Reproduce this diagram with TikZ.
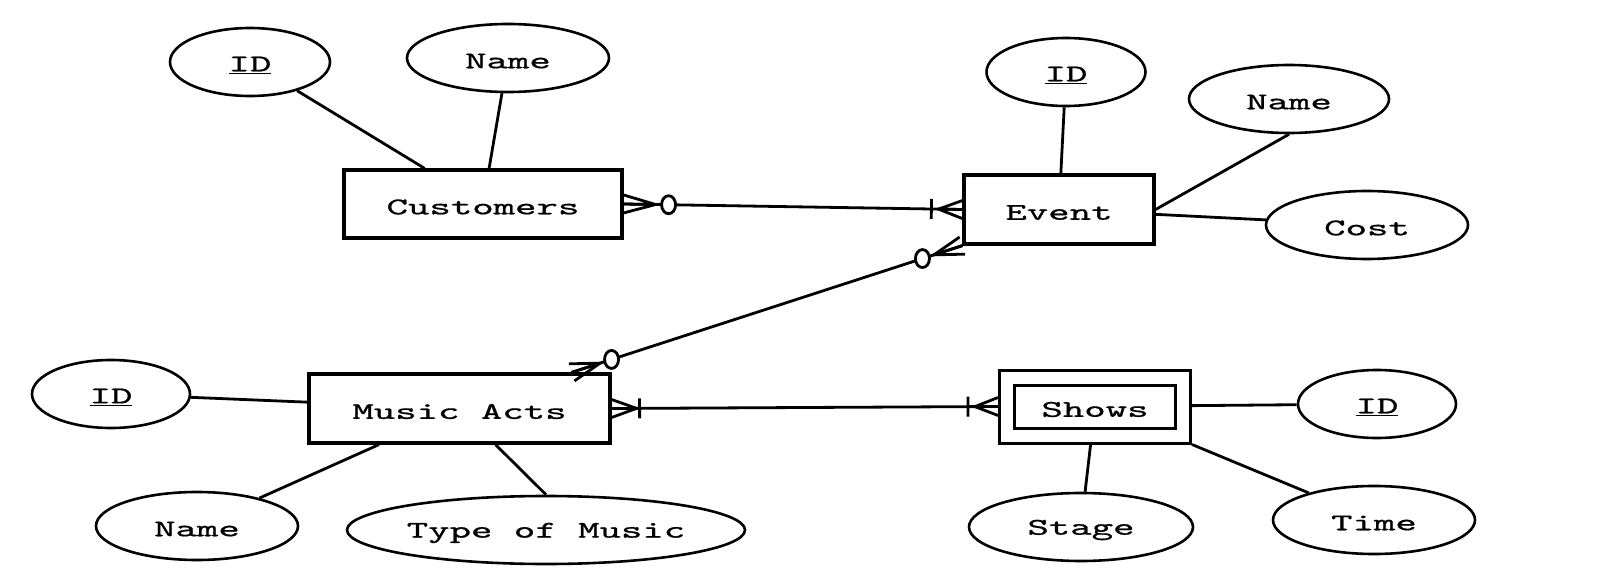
\documentclass[tikz,border=0pt]{standalone}
\usepackage{fontspec}
\newfontfamily\ertt{lmmono10-regular.otf}[FakeBold=0.7]
\usetikzlibrary{calc,shapes.geometric}
\newcommand\wt[1]{\raisebox{-3pt}[\height][\depth]{\scalebox{1.7}[1]{#1}}}
\newcommand\crowfoot[3]{%
  \draw[conn] ($(#1)!9pt!90:(#2)$) -- ($(#1)!#3!(#2)$) -- ($(#1)!9pt!-90:(#2)$)
        (#1) -- ($(#1)!#3!(#2)$);}
\newcommand\erbar[3]{%
  \coordinate (tmpb) at ($(#1)!#3!(#2)$);
  \draw[conn] ($(tmpb)!10pt!90:(#2)$) -- ($(tmpb)!10pt!-90:(#2)$);}
\newcommand\erzero[3]{%
  \draw[conn,fill=white] ($(#1)!#3!(#2)$) ellipse [x radius=7pt, y radius=9pt];}
\begin{document}
\begin{tikzpicture}[x=1pt,y=-1pt,
  every node/.style={font=\fontsize{24}{28}\selectfont\ertt},
  entity/.style={draw,line width=3.2pt,rectangle,inner sep=0pt},
  weak/.style={draw,line width=3pt,double,double distance=12pt,rectangle,inner sep=0pt,outer sep=9pt},
  attr/.style={draw,line width=2.6pt,ellipse,inner sep=0pt},
  conn/.style={line width=2.8pt}]
\useasboundingbox (0,0) rectangle (1599,583);
% entities
\node[entity,minimum width=278pt,minimum height=68pt] (cust) at (483,204) {\wt{Customers}};
\node[entity,minimum width=190pt,minimum height=69pt] (event) at (1059,209.5) {\wt{Event}};
\node[entity,minimum width=301pt,minimum height=69pt] (music) at (459.5,408.5) {\wt{Music Acts}};
\node[weak,minimum width=176pt,minimum height=58pt] (shows) at (1095,406.5) {\wt{Shows}};
% attributes
\node[attr,minimum width=160pt,minimum height=68pt] (cid) at (250,62) {\wt{\underline{ID}}};
\node[attr,minimum width=202pt,minimum height=68pt] (cname) at (508,58) {\wt{Name}};
\node[attr,minimum width=159pt,minimum height=68pt] (eid) at (1066,72) {\wt{\underline{ID}}};
\node[attr,minimum width=200pt,minimum height=68pt] (ename) at (1289,99) {\wt{Name}};
\node[attr,minimum width=202pt,minimum height=68pt] (ecost) at (1367,225) {\wt{Cost}};
\node[attr,minimum width=158pt,minimum height=68pt] (mid) at (111,394) {\wt{\underline{ID}}};
\node[attr,minimum width=202pt,minimum height=68pt] (mname) at (197,526) {\wt{Name}};
\node[attr,minimum width=398pt,minimum height=68pt] (mtype) at (546,530) {\wt{Type of Music}};
\node[attr,minimum width=158pt,minimum height=68pt] (sid) at (1377,404) {\wt{\underline{ID}}};
\node[attr,minimum width=224pt,minimum height=68pt] (sstage) at (1081,527) {\wt{Stage}};
\node[attr,minimum width=202pt,minimum height=68pt] (stime) at (1374,520) {\wt{Time}};
% attribute links
\draw[conn] (cid) -- (cust);
\draw[conn] (cname) -- (cust);
\draw[conn] (eid) -- (event);
\draw[conn] (ename.south) -- (event.east);
\draw[conn] (ecost) -- (event);
\draw[conn] (mid) -- (music);
\draw[conn] (mname) -- (music);
\draw[conn] (mtype.north) -- ($(music.south)+(36,0)$);
\draw[conn] (sid) -- (shows);
\draw[conn] (sstage) -- (shows);
\draw[conn] (stime) -- (shows.south east);
% relationships
\coordinate (ce) at (cust.east);
\coordinate (ew) at (event.west);
\draw[conn] (ce) -- (ew);
\crowfoot{ce}{ew}{32pt}
\erzero{ce}{ew}{45pt}
\crowfoot{ew}{ce}{24pt}
\erbar{ew}{ce}{31pt}
\coordinate (mt) at ($(music.north east)+(-40,0)$);
\coordinate (esw) at (event.south west);
\draw[conn] (mt) -- (esw);
\crowfoot{mt}{esw}{30pt}
\erzero{mt}{esw}{42pt}
\crowfoot{esw}{mt}{30pt}
\erzero{esw}{mt}{42pt}
\coordinate (me) at (music.east);
\coordinate (sw) at (shows.west);
\draw[conn] (me) -- (sw);
\crowfoot{me}{sw}{25pt}
\erbar{me}{sw}{28pt}
\crowfoot{sw}{me}{23pt}
\erbar{sw}{me}{30pt}
\end{tikzpicture}
\end{document}
